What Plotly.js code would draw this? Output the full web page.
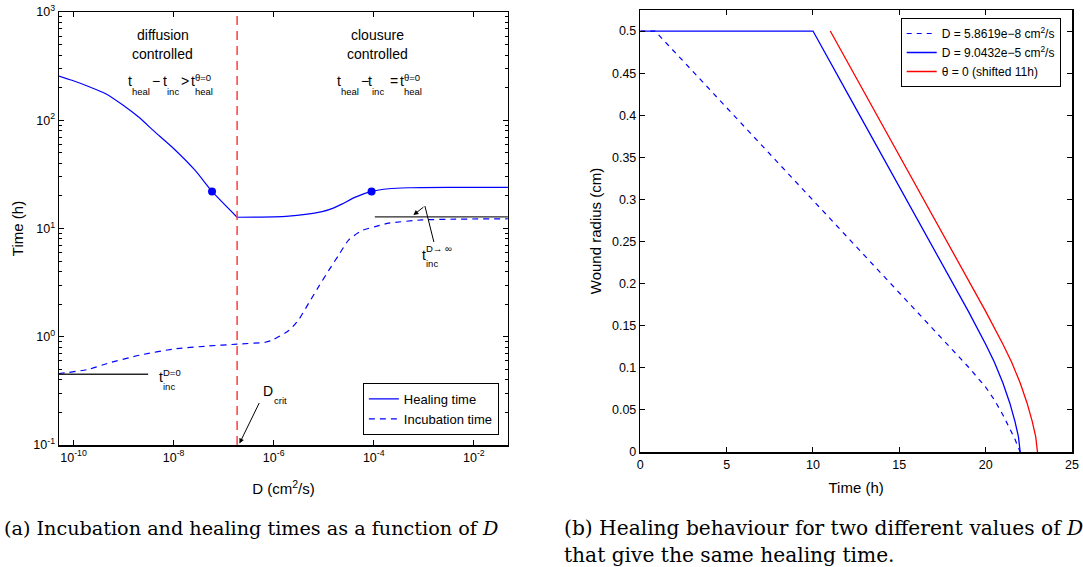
<!DOCTYPE html>
<html><head><meta charset="utf-8">
<script src="https://cdn.plot.ly/plotly-3.0.1.min.js"></script>
<style>html,body{margin:0;padding:0;background:#fff;} #chart{width:1083px;height:567px;}</style>
</head><body><div id="chart"></div>
<script>
// ---------- data: panel (a) ----------
const healD = [5.0e-11, 9.3e-11, 2.0e-10, 4.3e-10, 1.0e-9, 2.0e-9, 4.5e-9, 9.3e-9, 2.7e-8, 5.8619e-8, 1.86e-7,
               1.0e-6, 2.0e-6, 4.3e-6, 9.3e-6, 1.6e-5, 2.3e-5, 4.3e-5, 9.0432e-5, 2.0e-4, 5.0e-4, 9.3e-4, 1.0e-2, 5.0e-2];
const healT = [257, 234, 205, 177, 137, 107, 76, 56.6, 34.4, 22, 12.7,
               12.8, 13.0, 13.5, 14.3, 15.5, 16.8, 19.5, 22, 23.3, 23.8, 23.9, 24.0, 24.0];
const incD = [5.0e-11, 2.0e-10, 4.7e-10, 2.1e-9, 1.0e-8, 4.7e-8, 1.86e-7, 6.8e-7, 9.3e-7, 2.0e-6, 3.2e-6, 5.0e-6,
              7.9e-6, 1.26e-5, 2.0e-5, 3.2e-5, 5.9e-5, 1.07e-4, 2.0e-4, 9.3e-4, 4.3e-3, 5.0e-2];
const incT = [0.455, 0.50, 0.566, 0.676, 0.77, 0.82, 0.855, 0.89, 0.93, 1.14, 1.45, 2.04,
              2.9, 4.1, 5.7, 7.9, 9.6, 10.4, 11.2, 12.0, 12.2, 12.3];
const markD = [5.8619e-8, 9.0432e-5];
const markT = [22, 22];
const Dcrit = 1.86e-7;
const critLineT = [0.1, 1000];
const incZeroD = [5.0e-11, 3.1e-9];
const incZeroT = [0.45, 0.45];
const incInfD = [1.05e-4, 5.0e-2];
const incInfT = [12.8, 12.8];
const xTickVals = [1e-10, 1e-8, 1e-6, 1e-4, 1e-2];
const xTickText = ['10<sup>-10</sup>', '10<sup>-8</sup>', '10<sup>-6</sup>', '10<sup>-4</sup>', '10<sup>-2</sup>'];
const yTickVals = [0.1, 1, 10, 100, 1000];
const yTickText = ['10<sup>-1</sup>', '10<sup>0</sup>', '10<sup>1</sup>', '10<sup>2</sup>', '10<sup>3</sup>'];
const yMinorVals = [0.2,0.3,0.4,0.5,0.6,0.7,0.8,0.9, 2,3,4,5,6,7,8,9, 20,30,40,50,60,70,80,90, 200,300,400,500,600,700,800,900];

// ---------- data: panel (b) ----------
const slowT = [0, 0.85, 3, 5, 7, 9, 11, 13, 15, 17, 19, 20, 20.5, 21, 21.4, 21.7, 22.0];
const slowR = [0.5, 0.5, 0.453, 0.409, 0.365, 0.321, 0.277, 0.233, 0.189, 0.145, 0.101, 0.077, 0.062, 0.044, 0.028, 0.015, 0];
const fastT = [0, 10, 12, 14, 16, 18, 19, 20, 20.5, 21, 21.4, 21.7, 21.9, 22.0];
const fastR = [0.5, 0.5, 0.426, 0.352, 0.278, 0.204, 0.167, 0.128, 0.107, 0.082, 0.058, 0.036, 0.018, 0];
const closeT = [11, 13, 15, 17, 19, 20, 21, 21.5, 22, 22.4, 22.7, 22.9, 23.0];
const closeR = [0.5, 0.426, 0.352, 0.278, 0.204, 0.167, 0.128, 0.107, 0.082, 0.058, 0.036, 0.018, 0];
const xTick2 = [0, 5, 10, 15, 20, 25];
const yTick2 = [0, 0.05, 0.1, 0.15, 0.2, 0.25, 0.3, 0.35, 0.4, 0.45, 0.5];
const yTick2Text = ['0', '0.05', '0.1', '0.15', '0.2', '0.25', '0.3', '0.35', '0.4', '0.45', '0.5'];
const seriesNames = ['D = 5.8619e\u22128 cm<sup>2</sup>/s', 'D = 9.0432e\u22125 cm<sup>2</sup>/s', '\u03b8 = 0 (shifted 11h)'];

// ---------- layout helpers ----------
const W = 1083, H = 567, L = 59, R = 1083 - 1072.3, T = 10, B = 115;
const SANS = 'Liberation Sans, Arial, sans-serif';
const SERIF = 'DejaVu Serif, serif';
function px(x) { return (x - L) / (W - L - R); }
function py(y) { return (H - B - y) / (H - T - B); }
function ann(x, y, text, size, xa, ya, fam) {
  return {xref: 'paper', yref: 'paper', x: px(x), y: py(y), text: text, showarrow: false,
          xanchor: xa || 'left', yanchor: ya || 'middle', borderpad: 0,
          font: {size: size, color: 'black', family: fam || SANS}};
}
function arrow(tipX, tipY, tailX, tailY) {
  return {xref: 'paper', yref: 'paper', x: px(tipX), y: py(tipY), ax: tailX - tipX, ay: tailY - tipY,
          axref: 'pixel', ayref: 'pixel', text: '', showarrow: true, arrowhead: 2, arrowsize: 1,
          arrowwidth: 1, arrowcolor: 'black', standoff: 0, startstandoff: 0};
}

const blue = 'rgb(0,0,255)';
const idxCrit = healD.indexOf(Dcrit);

const traces = [
  {x: healD.slice(0, idxCrit + 1), y: healT.slice(0, idxCrit + 1), xaxis: 'x', yaxis: 'y', mode: 'lines',
   name: 'Healing time', legendgroup: 'heal', line: {color: blue, width: 1.2, shape: 'spline', smoothing: 0.6}},
  {x: healD.slice(idxCrit), y: healT.slice(idxCrit), xaxis: 'x', yaxis: 'y', mode: 'lines',
   name: 'Healing time', legendgroup: 'heal', showlegend: false, line: {color: blue, width: 1.2, shape: 'spline', smoothing: 0.6}},
  {x: incD, y: incT, xaxis: 'x', yaxis: 'y', mode: 'lines', name: 'Incubation time',
   line: {color: blue, width: 1.2, dash: '6px,5px', shape: 'spline', smoothing: 0.6}},
  {x: markD, y: markT, xaxis: 'x', yaxis: 'y', mode: 'markers', showlegend: false,
   marker: {color: blue, size: 8}},
  {x: [Dcrit, Dcrit], y: critLineT, xaxis: 'x', yaxis: 'y', mode: 'lines', showlegend: false,
   line: {color: 'rgb(255,60,60)', width: 1.5, dash: '9px,6px'}},
  {x: incZeroD, y: incZeroT, xaxis: 'x', yaxis: 'y', mode: 'lines', showlegend: false,
   line: {color: 'rgb(40,40,40)', width: 1.4}},
  {x: incInfD, y: incInfT, xaxis: 'x', yaxis: 'y', mode: 'lines', showlegend: false,
   line: {color: 'rgb(40,40,40)', width: 1.4}},
  {x: slowT, y: slowR, xaxis: 'x2', yaxis: 'y2', mode: 'lines', name: seriesNames[0], legend: 'legend2',
   line: {color: blue, width: 1.2, dash: '5px,5px'}},
  {x: fastT, y: fastR, xaxis: 'x2', yaxis: 'y2', mode: 'lines', name: seriesNames[1], legend: 'legend2',
   line: {color: blue, width: 1.3}},
  {x: closeT, y: closeR, xaxis: 'x2', yaxis: 'y2', mode: 'lines', name: seriesNames[2], legend: 'legend2',
   line: {color: 'rgb(255,0,0)', width: 1.3}}
];

const axBase = {showline: true, linecolor: 'black', linewidth: 1.5, mirror: 'ticks', ticks: 'inside',
                ticklen: 5, tickcolor: 'black', showgrid: false, zeroline: false, automargin: false,
                tickfont: {size: 12.5, color: 'black', family: SANS}};

const SM = 9.5, MN = 14;
const annotations = [
  ann(163, 35, 'diffusion', MN, 'center'), ann(163, 54, 'controlled', MN, 'center'),
  ann(378, 35, 'clousure', MN, 'center'), ann(378, 54, 'controlled', MN, 'center'),
  // left formula: t_heal - t_inc > t_heal^{theta=0}
  ann(127.5, 81, 't', MN), ann(131.5, 91, 'heal', SM), ann(151.5, 81, '\u2212', MN), ann(162.5, 81, 't', MN),
  ann(166, 91, 'inc', SM), ann(180, 81, '>', MN), ann(190.5, 81, 't', MN), ann(194.5, 77.5, '\u03b8=0', SM),
  ann(194.5, 91, 'heal', SM),
  // right formula: t_heal - t_inc = t_heal^{theta=0}
  ann(336, 81, 't', MN), ann(340, 91, 'heal', SM), ann(360, 81, '\u2212', MN), ann(367, 81, 't', MN),
  ann(371, 91, 'inc', SM), ann(389, 81, '=', MN), ann(399.5, 81, 't', MN), ann(403.5, 77.5, '\u03b8=0', SM),
  ann(403.5, 91, 'heal', SM),
  // t_inc^{D->inf}
  ann(421.5, 254.5, 't', MN), ann(425, 248.5, 'D\u2192 \u221e', SM), ann(425, 263.5, 'inc', SM),
  // t_inc^{D=0}
  ann(158, 377.5, 't', MN), ann(162, 372, 'D=0', SM), ann(162, 386, 'inc', SM),
  // D_crit
  ann(262.5, 391, 'D', MN), ann(273.5, 400, 'crit', SM),
  arrow(239.5, 443.5, 260, 401.5),
  arrow(413.5, 215, 425, 206),
  // captions
  ann(3, 528, '(a) Incubation and healing times as a function of <i>D</i>', 19.2, 'left', 'middle', SERIF),
  ann(563, 528, '(b) Healing behaviour for two different values of <i>D</i>', 20.2, 'left', 'middle', SERIF),
  ann(563, 555, 'that give the same healing time.', 20.2, 'left', 'middle', SERIF)
];

const layout = {
  width: W, height: H,
  margin: {l: L, r: R, t: T, b: B, pad: 0, autoexpand: false},
  paper_bgcolor: 'white', plot_bgcolor: 'white',
  font: {family: SANS, color: 'black', size: 13},
  xaxis: Object.assign({}, axBase, {domain: [0, px(508)], type: 'log', range: [-10.29, -1.32],
    tickmode: 'array', tickvals: xTickVals, ticktext: xTickText, anchor: 'y',
    title: {text: 'D (cm<sup>2</sup>/s)', font: {size: 15, family: SANS}, standoff: 20}}),
  yaxis: Object.assign({}, axBase, {domain: [py(445), py(12)], type: 'log', range: [-1, 3],
    tickmode: 'array', tickvals: yTickVals, ticktext: yTickText, anchor: 'x',
    minor: {tickmode: 'array', tickvals: yMinorVals, ticks: 'inside', ticklen: 3, tickcolor: 'black', showgrid: false},
    title: {text: 'Time (h)', font: {size: 15, family: SANS}, standoff: 6}}),
  xaxis2: Object.assign({}, axBase, {domain: [px(640.5), 1], range: [0, 25], tickmode: 'array',
    tickvals: xTick2, anchor: 'y2',
    title: {text: 'Time (h)', font: {size: 15, family: SANS}, standoff: 12}}),
  yaxis2: Object.assign({}, axBase, {domain: [0, 1], range: [0, 0.525], tickmode: 'array',
    tickvals: yTick2, ticktext: yTick2Text, anchor: 'x2',
    title: {text: 'Wound radius (cm)', font: {size: 15, family: SANS}, standoff: 6}}),
  showlegend: true,
  legend: {x: px(499), y: py(435), xanchor: 'right', yanchor: 'bottom', bgcolor: 'white', bordercolor: 'black',
           borderwidth: 1, font: {size: 13, family: SANS, color: 'black'}, tracegroupgap: 0},
  legend2: {x: px(1061), y: py(18), xanchor: 'right', yanchor: 'top', bgcolor: 'white', bordercolor: 'black',
            borderwidth: 1, font: {size: 12, family: SANS, color: 'black'}, tracegroupgap: 0},
  annotations: annotations,
  shapes: [{type: 'line', xref: 'paper', yref: 'paper', x0: px(434), y0: py(242), x1: px(425), y1: py(206),
            line: {color: 'black', width: 1}}]
};

Plotly.newPlot('chart', traces, layout, {staticPlot: true, displayModeBar: false});
</script>
</body></html>
